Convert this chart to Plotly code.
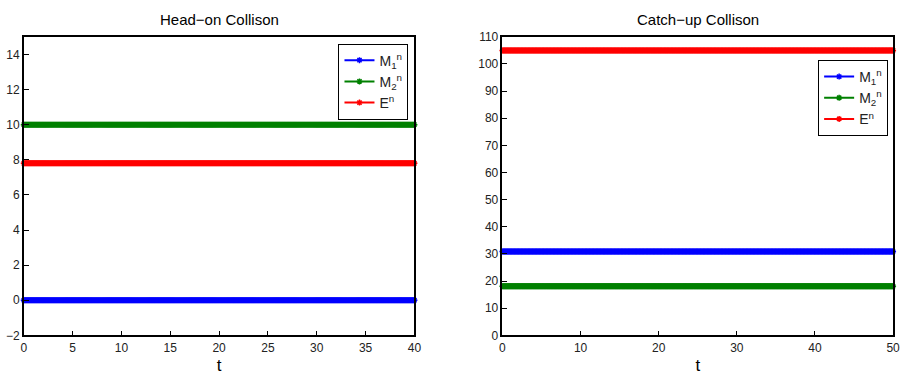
import numpy as np
import plotly.graph_objects as go

# Data
t_left = np.linspace(0, 40, 401)
m1_left = 0.0
m2_left = 10.0
e_left = 7.8

t_right = np.linspace(0, 50, 501)
m1_right = 30.9
m2_right = 18.1
e_right = 105.0

names = ["M<sub>1</sub><sup>n</sup>", "M<sub>2</sub><sup>n</sup>", "E<sup>n</sup>"]
colors = ["#0000ff", "#008000", "#ff0000"]

W, H = 907, 378
def px(x):
    return x / W
def py(y):
    return 1 - y / H

FONT = "Liberation Sans, Arial, Helvetica, sans-serif"

fig = go.Figure()

def add(t, vals, xa, ya, lg):
    for v, nm, c in zip(vals, names, colors):
        fig.add_trace(go.Scatter(
            x=t, y=np.full_like(t, v), name=nm, mode="lines+markers",
            line=dict(color=c, width=2),
            marker=dict(symbol="asterisk-open", size=5, color=c, line=dict(color=c, width=1.5)),
            cliponaxis=False, xaxis=xa, yaxis=ya, legend=lg))

add(t_left, [m1_left, m2_left, e_left], "x", "y", "legend")
add(t_right, [m1_right, m2_right, e_right], "x2", "y2", "legend2")

axstyle = dict(showline=True, linecolor="black", linewidth=1.5, mirror=True,
               ticks="inside", ticklen=5, tickcolor="black", showgrid=False,
               zeroline=False, tickfont=dict(family=FONT, size=12, color="#222"))

leg = dict(xanchor="right", yanchor="top", bgcolor="white", bordercolor="black",
           borderwidth=1, font=dict(family=FONT, size=14, color="#222"),
           tracegroupgap=0, itemwidth=30)

fig.update_layout(
    width=W, height=H, margin=dict(l=0, r=0, t=0, b=0),
    paper_bgcolor="white", plot_bgcolor="white",
    font=dict(family=FONT, size=12, color="black"),
    showlegend=True,
    xaxis=dict(domain=[px(21), px(416)], range=[0, 40], tickvals=list(range(0, 41, 5)),
               anchor="y", title=dict(text="t", font=dict(size=17), standoff=6), **axstyle),
    yaxis=dict(domain=[py(341), py(31)], range=[-2, 15], tickvals=list(range(-2, 15, 2)),
               anchor="x", **axstyle),
    xaxis2=dict(domain=[px(505), px(900)], range=[0, 50], tickvals=list(range(0, 51, 10)),
                anchor="y2", title=dict(text="t", font=dict(size=17), standoff=6), **axstyle),
    yaxis2=dict(domain=[py(341), py(31)], range=[0, 110], tickvals=list(range(0, 111, 10)),
                anchor="x2", **axstyle),
    legend=dict(x=px(410), y=py(38), **leg),
    legend2=dict(x=px(895), y=py(55), **leg),
    annotations=[
        dict(text="Head\u2212on Collison", x=(px(21) + px(416)) / 2, y=py(13), xref="paper", yref="paper",
             xanchor="center", yanchor="middle", showarrow=False, font=dict(family=FONT, size=15)),
        dict(text="Catch\u2212up Collison", x=(px(505) + px(900)) / 2, y=py(13), xref="paper", yref="paper",
             xanchor="center", yanchor="middle", showarrow=False, font=dict(family=FONT, size=15)),
    ],
)

fig.write_html("out.html")
